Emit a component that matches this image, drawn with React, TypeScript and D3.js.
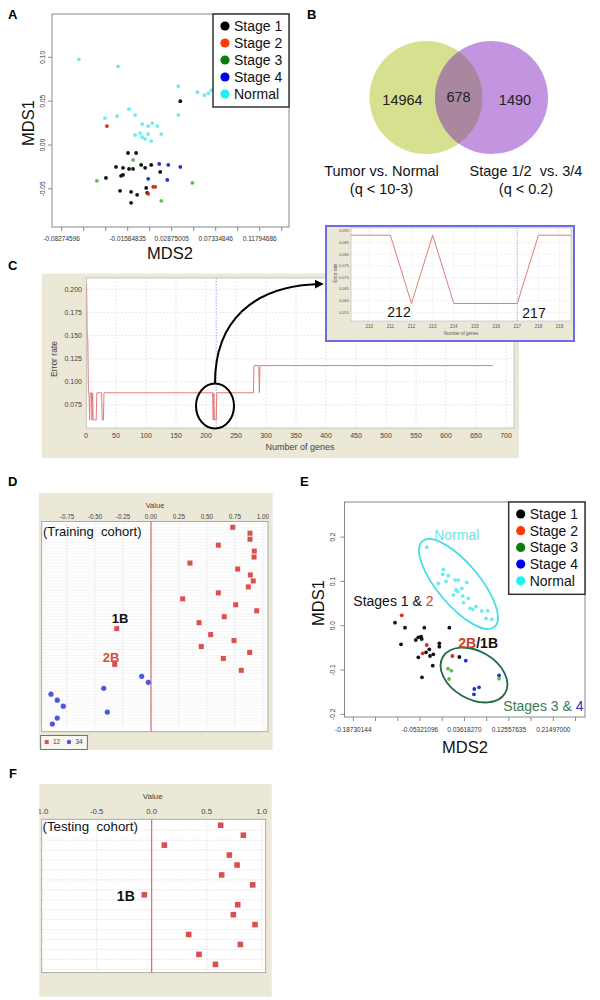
import React from "react";
import * as d3 from "d3";

const FONT = "'Liberation Sans', Arial, Helvetica, sans-serif";
const BEIGE = "#ebe8d8";

// ---------- Panel A (MDS) ----------
const aNormal = [[-0.0654,0.0977],[-0.0257,0.0897],[0.0355,0.0670],[0.0548,0.0602],[0.0620,0.0568],[0.0660,0.0591],[0.0691,0.0625],[0.0355,0.0341],[-0.0145,0.0409],[-0.0389,0.0307],[-0.0267,0.0329],[-0.0084,0.0341],[-0.0012,0.0239],[0.0049,0.0216],[0.0090,0.0250],[0.0141,0.0216],[-0.0084,0.0114],[-0.0033,0.0136],[-0.0012,0.0091],[0.0049,0.0125],[0.0018,0.0068],[0.0080,0.0045],[0.0182,0.0125]];
const aStage1 = [[0.0375,0.0500],[-0.0155,-0.0091],[-0.0073,-0.0091],[-0.0277,-0.0250],[-0.0206,-0.0260],[-0.0145,-0.0273],[-0.0104,-0.0273],[-0.0022,-0.0227],[0.0018,-0.0260],[0.0080,-0.0227],[0.0171,-0.0307],[-0.0206,-0.0341],[-0.0226,-0.0352],[-0.0379,-0.0375],[-0.0236,-0.0523],[-0.0124,-0.0534],[-0.0063,-0.0568],[0.0029,-0.0489],[0.0039,-0.0545],[-0.0124,-0.0659]];
const aStage2 = [[-0.0369,0.0216],[0.0100,-0.0477],[0.0120,-0.0477],[0.0049,-0.0557]];
const aStage3 = [[-0.0104,-0.0170],[-0.0471,-0.0409],[0.0497,-0.0432],[0.0182,-0.0636]];
const aStage4 = [[0.0161,-0.0216],[0.0253,-0.0227],[0.0375,-0.0250],[0.0049,-0.0386],[0.0243,-0.0398]];
const aXLabels = [-0.08274596, -0.01584835, 0.02875005, 0.07334846, 0.11794686];
const aYTicks = [-0.05, 0.0, 0.05, 0.10];

// ---------- Panel B (Venn) ----------
const vennCounts = [14964, 678, 1490];
const vennLabels = [["Tumor vs. Normal", "(q < 10-3)"], ["Stage 1/2  vs. 3/4", "(q < 0.2)"]];

// ---------- Panel C (error rate) ----------
const cGenes = [1, 2, 3, 4, 5, 6, 7, 9, 10, 11, 12, 17, 18, 26, 27, 29, 30, 211, 212, 213, 214, 217, 218, 279, 280, 288, 289, 290, 678];
const cError = [0.2059, 0.1471, 0.1471, 0.0882, 0.0882, 0.0588, 0.0882, 0.0882, 0.0588, 0.0882, 0.0588, 0.0588, 0.0882, 0.0882, 0.0588, 0.0588, 0.0882, 0.0882, 0.0588, 0.0882, 0.0588, 0.0588, 0.0882, 0.0882, 0.1176, 0.1176, 0.0882, 0.1176, 0.1176];
const cXTicks = [0, 50, 100, 150, 200, 250, 300, 350, 400, 450, 500, 550, 600, 650, 700];
const cYTicks = [0.075, 0.100, 0.125, 0.150, 0.175, 0.200];
const insetGenes = [209, 210, 211, 212, 213, 214, 215, 216, 217, 218, 219, 220];
const insetError = [0.0882, 0.0882, 0.0882, 0.0588, 0.0882, 0.0588, 0.0588, 0.0588, 0.0588, 0.0882, 0.0882, 0.0882];
const insetXTicks = [210, 211, 212, 213, 214, 215, 216, 217, 218, 219];
const insetYTicks = [0.055, 0.060, 0.065, 0.070, 0.075, 0.080, 0.085, 0.090];

// ---------- Panel D (training cohort) ----------
const dTrain12 = [0.73, 0.884, 0.884, 0.601, 0.922, 0.92, 0.348, 0.774, 0.887, 0.913, 0.869, 0.601, 0.283, 0.756, 0.944, 0.654, 0.429, -0.306, 0.533, 0.741, 0.449, 0.881, 0.646, -0.324, 0.806];
const dTrain34 = [-0.083, -0.024, -0.422, -0.893, -0.837, -0.783, -0.39, -0.837, -0.881];
const dXTicks = [-0.75, -0.5, -0.25, 0, 0.25, 0.5, 0.75, 1.0];

// ---------- Panel E (MDS) ----------
const eNormal = [[-0.0396,0.177],[-0.0062,0.127],[-0.0074,0.116],[0.0038,0.113],[-0.0163,0.0957],[-0.0008,0.100],[0.0173,0.103],[0.024,0.103],[0.0409,0.098],[0.0193,0.0806],[0.0228,0.0768],[0.0308,0.0844],[0.0139,0.0693],[0.0328,0.067],[0.0341,0.0519],[0.0441,0.0618],[0.0475,0.0393],[0.0529,0.037],[0.0596,0.0429],[0.0710,0.0332],[0.0831,0.0339],[0.0797,0.0167],[0.0912,0.0144]];
const eStage1 = [[-0.1034,0.0068],[-0.0833,-0.0045],[-0.0444,-0.0045],[0.0059,-0.0045],[-0.0913,-0.042],[-0.0617,-0.0323],[-0.0565,-0.0262],[-0.0511,-0.0248],[-0.0497,-0.030],[-0.0344,-0.0533],[-0.0143,-0.0397],[-0.0143,-0.0474],[-0.0565,-0.0713],[-0.0410,-0.060],[-0.0330,-0.0684],[-0.0263,-0.0646],[-0.0275,-0.0903],[-0.0491,-0.1165],[0.0260,-0.0707]];
const eStage2 = [[-0.0899,0.0235],[-0.0396,-0.0436],[-0.0477,-0.0623],[0.0119,-0.0684]];
const eStage3 = [[0.0032,-0.097],[0.0099,-0.1016],[0.0052,-0.1203],[0.1059,-0.1196]];
const eStage4 = [[0.0389,-0.079],[0.1059,-0.112],[0.0561,-0.1429],[0.0656,-0.139],[0.0553,-0.1549]];
const eXLabels = [-0.18730144, -0.05321096, 0.0361827, 0.12557635, 0.21497];
const eYTicks = [-0.2, -0.1, 0.0, 0.1, 0.2];

// ---------- Panel F (testing cohort) ----------
const fTest = [0.627, 0.833, 0.115, 0.706, 0.776, 0.636, 0.918, -0.067, 0.782, 0.742, 0.939, 0.336, 0.806, 0.43, 0.579];
const fXTicks = [-1.0, -0.5, 0.0, 0.5, 1.0];

const legendItems = [
  { label: "Stage 1", color: "#000000" },
  { label: "Stage 2", color: "#ff3a0a" },
  { label: "Stage 3", color: "#0b7d0b" },
  { label: "Stage 4", color: "#0000f0" },
  { label: "Normal", color: "#1ff2f2" },
];
const dotColors = { s1: "#111111", s2: "#dd2a1c", s3: "#5cbf48", s4: "#1f33d0", n: "#6cecef" };

const minus = (s: string) => s.replace("\u2212", "-");

function Legend({ x, y, w, h, step }: { x: number; y: number; w: number; h: number; step: number }) {
  return (
    <g>
      <rect x={x} y={y} width={w} height={h} fill="#fff" stroke="#333" strokeWidth={1.5} />
      {legendItems.map((it, i) => (
        <g key={it.label}>
          <circle cx={x + 12} cy={y + 12 + i * step} r={4.6} fill={it.color} />
          <text x={x + 21} y={y + 12 + i * step} dy="0.36em" fontSize={14} fontFamily={FONT} fill="#111">{it.label}</text>
        </g>
      ))}
    </g>
  );
}

function Dots({ data, x, y, color }: { data: number[][]; x: any; y: any; color: string }) {
  return <g>{data.map((d, i) => <circle key={i} cx={x(d[0])} cy={y(d[1])} r={1.9} fill={color} />)}</g>;
}

function PanelA() {
  const x = d3.scaleLinear().domain([aXLabels[0], aXLabels[4]]).range([61.7, 259.7]);
  const y = d3.scaleLinear().domain([0, 0.1]).range([145, 57.3]);
  const step = (aXLabels[4] - aXLabels[0]) / 9;
  const ticks = d3.range(11).map((k) => aXLabels[0] + k * step);
  const box = { l: 52, t: 14, r: 289, b: 227 };
  return (
    <g fontFamily={FONT}>
      <text x={8} y={19} fontSize={13} fontWeight="bold">A</text>
      <rect x={box.l} y={box.t} width={box.r - box.l} height={box.b - box.t} fill="none" stroke="#888" strokeWidth={1} />
      {ticks.map((t, i) => <line key={i} x1={x(t)} x2={x(t)} y1={box.b} y2={box.b + 4} stroke="#888" />)}
      {aXLabels.map((t, i) => (
        <text key={i} x={x(t)} y={241} fontSize={6.5} textAnchor="middle" fill="#333">{t.toFixed(8)}</text>
      ))}
      {aYTicks.map((t, i) => (
        <g key={i}>
          <line x1={box.l - 4} x2={box.l} y1={y(t)} y2={y(t)} stroke="#888" />
          <text transform={`translate(${44.5},${y(t)}) rotate(-90)`} fontSize={6.5} textAnchor="middle" fill="#333">{t.toFixed(2)}</text>
        </g>
      ))}
      <text transform={`translate(33.5,123) rotate(-90)`} fontSize={16.5} textAnchor="middle" fill="#111">MDS1</text>
      <text x={170} y={259} fontSize={16.5} textAnchor="middle" fill="#111">MDS2</text>
      <Dots data={aNormal} x={x} y={y} color={dotColors.n} />
      <Dots data={aStage1} x={x} y={y} color={dotColors.s1} />
      <Dots data={aStage2} x={x} y={y} color={dotColors.s2} />
      <Dots data={aStage3} x={x} y={y} color={dotColors.s3} />
      <Dots data={aStage4} x={x} y={y} color={dotColors.s4} />
      <Legend x={213} y={14} w={76} h={93} step={17} />
    </g>
  );
}

function PanelB() {
  const L = { cx: 426, cy: 97.5, r: 56.5 };
  const R = { cx: 491.5, cy: 97.5, r: 56.5 };
  const arc = d3.arc();
  const circ = (c: any) => `M${c.cx - c.r},${c.cy} a${c.r},${c.r} 0 1,0 ${2 * c.r},0 a${c.r},${c.r} 0 1,0 ${-2 * c.r},0 Z`;
  return (
    <g fontFamily={FONT}>
      <defs>
        <clipPath id="vennRightClip"><path d={circ(R)} /></clipPath>
      </defs>
      <text x={307} y={19} fontSize={13} fontWeight="bold">B</text>
      <path d={circ(L)} fill="#d6e08f" />
      <path d={circ(R)} fill="#c394e0" />
      <path d={circ(L)} fill="#a9889f" clipPath="url(#vennRightClip)" />
      <text x={402.5} y={100} dy="0.36em" fontSize={14.5} textAnchor="middle" fill="#222">{vennCounts[0]}</text>
      <text x={458.5} y={97} dy="0.36em" fontSize={14.5} textAnchor="middle" fill="#222">{vennCounts[1]}</text>
      <text x={515} y={100} dy="0.36em" fontSize={14.5} textAnchor="middle" fill="#222">{vennCounts[2]}</text>
      {vennLabels.map((lab, i) => (
        <g key={i}>
          <text x={i === 0 ? 381.5 : 526} y={171} dy="0.36em" fontSize={14.5} textAnchor="middle" fill="#111" style={{ whiteSpace: "pre" }}>{lab[0]}</text>
          <text x={i === 0 ? 381.5 : 526} y={189} dy="0.36em" fontSize={14.5} textAnchor="middle" fill="#111" style={{ whiteSpace: "pre" }}>{lab[1]}</text>
        </g>
      ))}
    </g>
  );
}

function PanelC() {
  const plot = { l: 86.5, t: 278, r: 514, b: 428 };
  const x = d3.scaleLinear().domain([0, 700]).range([86, 506]);
  const y = d3.scaleLinear().domain([0.075, 0.2]).range([405, 289.3]);
  const line = d3.line<number>().x((d, i) => x(cGenes[i])).y((d) => y(d));
  const grid = "#cfcfcf";
  // inset
  const ip = { l: 351, t: 228, r: 571, b: 321 };
  const ix = d3.scaleLinear().domain([210, 219]).range([369.2, 559.6]);
  const iy = d3.scaleLinear().domain([0.055, 0.09]).range([312.3, 231]);
  const iline = d3.line<number>().x((d, i) => ix(insetGenes[i])).y((d) => iy(d));
  return (
    <g fontFamily={FONT}>
      <defs>
        <clipPath id="cClip"><rect x={plot.l} y={plot.t} width={plot.r - plot.l} height={plot.b - plot.t} /></clipPath>
        <clipPath id="insetClip"><rect x={ip.l} y={ip.t} width={ip.r - ip.l} height={ip.b - ip.t} /></clipPath>
        <marker id="arrowHead" viewBox="0 0 10 10" refX={8} refY={5} markerWidth={4.5} markerHeight={4.5} orient="auto">
          <path d="M0,0 L10,5 L0,10 z" fill="#000" />
        </marker>
      </defs>
      <text x={8} y={270} fontSize={13} fontWeight="bold">C</text>
      <rect x={41.7} y={273.5} width={519 - 41.7} height={458 - 273.5} fill={BEIGE} />
      <rect x={plot.l} y={plot.t} width={plot.r - plot.l} height={plot.b - plot.t} fill="#fff" stroke="#aaa" strokeWidth={0.6} />
      {cXTicks.map((t) => <line key={t} x1={x(t)} x2={x(t)} y1={plot.t} y2={plot.b} stroke={grid} strokeWidth={0.6} strokeDasharray="1.5,2" />)}
      {cYTicks.map((t) => <line key={t} x1={plot.l} x2={plot.r} y1={y(t)} y2={y(t)} stroke={grid} strokeWidth={0.6} strokeDasharray="1.5,2" />)}
      {cXTicks.map((t) => <text key={t} x={x(t)} y={437.5} fontSize={7} textAnchor="middle" fill="#444">{t}</text>)}
      {cYTicks.map((t) => <text key={t} x={82} y={y(t)} dy="0.35em" fontSize={7} textAnchor="end" fill="#444">{t.toFixed(3)}</text>)}
      <text transform="translate(57,359) rotate(-90)" fontSize={8.5} textAnchor="middle" fill="#444">Error rate</text>
      <text x={300} y={450} fontSize={9} textAnchor="middle" fill="#444">Number of genes</text>
      <line x1={x(217)} x2={x(217)} y1={plot.t} y2={plot.b} stroke="#8c8cf0" strokeWidth={0.8} strokeDasharray="1.5,1.5" />
      <path d={line(cError) || ""} fill="none" stroke="#e07b7b" strokeWidth={1} clipPath="url(#cClip)" />
      <ellipse cx={215} cy={406} rx={19} ry={22.5} fill="none" stroke="#000" strokeWidth={2} />
      <path d="M215,383 C215,322 252,285 322,284" fill="none" stroke="#000" strokeWidth={2} markerEnd="url(#arrowHead)" />
      {/* inset */}
      <rect x={326} y={226} width={248} height={115} fill={BEIGE} stroke="#6b6be6" strokeWidth={2} />
      <rect x={ip.l} y={ip.t} width={ip.r - ip.l} height={ip.b - ip.t} fill="#fff" stroke="#aaa" strokeWidth={0.5} />
      {insetXTicks.map((t) => <line key={t} x1={ix(t)} x2={ix(t)} y1={ip.t} y2={ip.b} stroke={grid} strokeWidth={0.5} strokeDasharray="1,1.5" />)}
      {insetYTicks.map((t) => <line key={t} x1={ip.l} x2={ip.r} y1={iy(t)} y2={iy(t)} stroke={grid} strokeWidth={0.5} strokeDasharray="1,1.5" />)}
      {insetXTicks.map((t) => <text key={t} x={ix(t)} y={327.5} fontSize={4.5} textAnchor="middle" fill="#555">{t}</text>)}
      {insetYTicks.map((t) => <text key={t} x={349} y={iy(t)} dy="0.35em" fontSize={4} textAnchor="end" fill="#555">{t.toFixed(3)}</text>)}
      <text x={461} y={335} fontSize={4.5} textAnchor="middle" fill="#555">Number of genes</text>
      <text transform="translate(337,273) rotate(-90)" fontSize={4.5} textAnchor="middle" fill="#555">Error rate</text>
      <line x1={ix(217)} x2={ix(217)} y1={ip.t} y2={ip.b} stroke="#8c8cf0" strokeWidth={0.7} strokeDasharray="1,1" />
      <path d={iline(insetError) || ""} fill="none" stroke="#e07b7b" strokeWidth={1} clipPath="url(#insetClip)" />
      <text x={399} y={317} fontSize={14} textAnchor="middle" fill="#111">212</text>
      <text x={534} y={318} fontSize={14} textAnchor="middle" fill="#111">217</text>
    </g>
  );
}

function PanelD() {
  const plot = { l: 41.7, t: 521.5, r: 268, b: 731.7 };
  const x = d3.scaleLinear().domain([-0.75, 1.0]).range([67, 263]);
  const rows = [...dTrain12.map((v) => ({ v, g: "12" })), ...dTrain34.map((v) => ({ v, g: "34" }))];
  const y = d3.scaleBand<number>().domain(d3.range(rows.length)).range([524.3, 727]);
  const bw = y.bandwidth();
  const fmt = (v: number) => minus(d3.format(".2f")(v));
  return (
    <g fontFamily={FONT}>
      <text x={8} y={486} fontSize={13} fontWeight="bold">D</text>
      <rect x={39} y={493} width={272.7 - 39} height={750 - 493} fill={BEIGE} />
      <rect x={plot.l} y={plot.t} width={plot.r - plot.l} height={plot.b - plot.t} fill="#fff" stroke="#999" strokeWidth={0.8} />
      {rows.map((r, i) => (
        <g key={i}>
          <line x1={plot.l} x2={plot.r} y1={(y(i) as number) + bw / 2} y2={(y(i) as number) + bw / 2} stroke="#dadada" strokeWidth={0.5} strokeDasharray="1,1" />
          <line x1={plot.l} x2={plot.r} y1={y(i) as number} y2={y(i) as number} stroke="#e8e8e8" strokeWidth={0.5} />
        </g>
      ))}
      {dXTicks.map((t) => <line key={t} x1={x(t)} x2={x(t)} y1={plot.t} y2={plot.b} stroke="#d4d4d4" strokeWidth={0.6} strokeDasharray="1.5,1.5" />)}
      {dXTicks.map((t) => <text key={t} x={x(t)} y={518.5} fontSize={6.3} textAnchor="middle" fill="#444">{fmt(t)}</text>)}
      <text x={155} y={507.5} fontSize={7.5} textAnchor="middle" fill="#444">Value</text>
      <line x1={x(0)} x2={x(0)} y1={plot.t} y2={plot.b} stroke="#d25555" strokeWidth={1} />
      {rows.map((r, i) => {
        const cy = (y(i) as number) + bw / 2;
        return r.g === "12"
          ? <rect key={i} x={x(r.v) - 2.5} y={cy - 2.5} width={5} height={5} fill="#d9514f" />
          : <circle key={i} cx={x(r.v)} cy={cy} r={2.6} fill="#4a58e0" />;
      })}
      <text x={43} y={536} fontSize={13} fill="#111" style={{ whiteSpace: "pre" }}>{"(Training  cohort)"}</text>
      <text x={120} y={623} fontSize={13} fontWeight="bold" textAnchor="middle" fill="#111">1B</text>
      <text x={111} y={662} fontSize={13} fontWeight="bold" textAnchor="middle" fill="#d4503a">2B</text>
      <rect x={40.7} y={735.5} width={46.6} height={14} fill="#f7f6f0" stroke="#555" strokeWidth={0.8} />
      <rect x={44.7} y={740} width={4} height={4} fill="#d9514f" />
      <text x={53} y={742} dy="0.35em" fontSize={6.5} fill="#444">12</text>
      <circle cx={69} cy={742} r={2.2} fill="#4a58e0" />
      <text x={75.5} y={742} dy="0.35em" fontSize={6.5} fill="#444">34</text>
    </g>
  );
}

function PanelE() {
  const x = d3.scaleLinear().domain([eXLabels[0], eXLabels[4]]).range([353.3, 553.3]);
  const y = d3.scaleLinear().domain([0, 0.1]).range([625.7, 581.4]);
  const step = (eXLabels[4] - eXLabels[0]) / 9;
  const ticks = d3.range(11).map((k) => eXLabels[0] + k * step);
  const box = { l: 344.5, t: 502, r: 585, b: 717 };
  return (
    <g fontFamily={FONT}>
      <text x={300} y={486} fontSize={13} fontWeight="bold">E</text>
      <rect x={box.l} y={box.t} width={box.r - box.l} height={box.b - box.t} fill="none" stroke="#888" strokeWidth={1} />
      {ticks.map((t, i) => <line key={i} x1={x(t)} x2={x(t)} y1={box.b} y2={box.b + 4} stroke="#888" />)}
      {eXLabels.map((t, i) => (
        <text key={i} x={x(t)} y={731.5} fontSize={6.5} textAnchor="middle" fill="#333">{t.toFixed(8)}</text>
      ))}
      {eYTicks.map((t, i) => (
        <g key={i}>
          <line x1={box.l - 4} x2={box.l} y1={y(t)} y2={y(t)} stroke="#888" />
          <text transform={`translate(${334.5},${y(t)}) rotate(-90)`} fontSize={6.5} textAnchor="middle" fill="#333">{t.toFixed(1)}</text>
        </g>
      ))}
      <text transform="translate(324,603) rotate(-90)" fontSize={16.5} textAnchor="middle" fill="#111">MDS1</text>
      <text x={465} y={752.5} fontSize={16.5} textAnchor="middle" fill="#111">MDS2</text>
      <ellipse cx={458.5} cy={584} rx={56} ry={21} fill="none" stroke="#45dde6" strokeWidth={1.8} transform="rotate(50,458.5,584)" />
      <ellipse cx={474} cy={675} rx={36} ry={24} fill="none" stroke="#1f6b3f" strokeWidth={1.8} transform="rotate(30,474,675)" />
      <Dots data={eNormal} x={x} y={y} color={dotColors.n} />
      <Dots data={eStage1} x={x} y={y} color={dotColors.s1} />
      <Dots data={eStage2} x={x} y={y} color={dotColors.s2} />
      <Dots data={eStage3} x={x} y={y} color={dotColors.s3} />
      <Dots data={eStage4} x={x} y={y} color={dotColors.s4} />
      <text x={456.7} y={535} dy="0.36em" fontSize={14} textAnchor="middle" fill="#6fe3ea">Normal</text>
      <text x={353.3} y={606} fontSize={14} fill="#111">Stages 1 &amp; <tspan fill="#d23a2a">2</tspan></text>
      <text x={458.3} y={647.5} fontSize={14} fontWeight="bold" fill="#111"><tspan fill="#d23a2a">2B</tspan>/1B</text>
      <text x={503.3} y={711} fontSize={14} fill="#3c7d4c">Stages 3 &amp; <tspan fill="#2233bb">4</tspan></text>
      <Legend x={508.7} y={502} w={76.3} h={92.3} step={16.7} />
    </g>
  );
}

function PanelF() {
  const plot = { l: 41.7, t: 819.3, r: 265.7, b: 972.7 };
  const x = d3.scaleLinear().domain([-1, 1]).range([41.7, 261.7]);
  const y = d3.scaleBand<number>().domain(d3.range(fTest.length)).range([820.3, 969.3]);
  const bw = y.bandwidth();
  const fmt = (v: number) => minus(d3.format(".1f")(v));
  return (
    <g fontFamily={FONT}>
      <defs>
        <clipPath id="fClip"><rect x={39.3} y={784} width={271.7 - 39.3} height={996.7 - 784} /></clipPath>
      </defs>
      <text x={9} y={778} fontSize={13} fontWeight="bold">F</text>
      <rect x={39.3} y={784} width={271.7 - 39.3} height={996.7 - 784} fill={BEIGE} />
      <rect x={plot.l} y={plot.t} width={plot.r - plot.l} height={plot.b - plot.t} fill="#fff" stroke="#999" strokeWidth={0.8} />
      {fTest.map((v, i) => (
        <line key={i} x1={plot.l} x2={plot.r} y1={(y(i) as number) + bw} y2={(y(i) as number) + bw} stroke="#cfcfcf" strokeWidth={0.6} strokeDasharray="1.5,1.5" />
      ))}
      {fXTicks.map((t) => <line key={t} x1={x(t)} x2={x(t)} y1={plot.t} y2={plot.b} stroke="#cfcfcf" strokeWidth={0.6} strokeDasharray="1.5,1.5" />)}
      <g clipPath="url(#fClip)">
        {fXTicks.map((t) => <text key={t} x={x(t)} y={813.5} fontSize={7.8} textAnchor="middle" fill="#444">{fmt(t)}</text>)}
      </g>
      <text x={152.7} y={799} fontSize={8} textAnchor="middle" fill="#444">Value</text>
      <line x1={x(0)} x2={x(0)} y1={plot.t} y2={plot.b} stroke="#d25555" strokeWidth={1} />
      {fTest.map((v, i) => {
        const cy = (y(i) as number) + bw / 2;
        return <rect key={i} x={x(v) - 2.8} y={cy - 2.8} width={5.6} height={5.6} fill="#d9514f" />;
      })}
      <text x={42.5} y={831} fontSize={13.3} fill="#111" style={{ whiteSpace: "pre" }}>{"(Testing  cohort)"}</text>
      <text x={125.8} y={901} fontSize={14} fontWeight="bold" textAnchor="middle" fill="#111">1B</text>
    </g>
  );
}

export default function App() {
  return (
    <div style={{ position: "absolute", left: 0, top: 0 }}>
      <svg width={600} height={1000} viewBox="0 0 600 1000" style={{ display: "block", background: "#fff" }}>
        <PanelA />
        <PanelB />
        <PanelC />
        <PanelD />
        <PanelE />
        <PanelF />
      </svg>
    </div>
  );
}
